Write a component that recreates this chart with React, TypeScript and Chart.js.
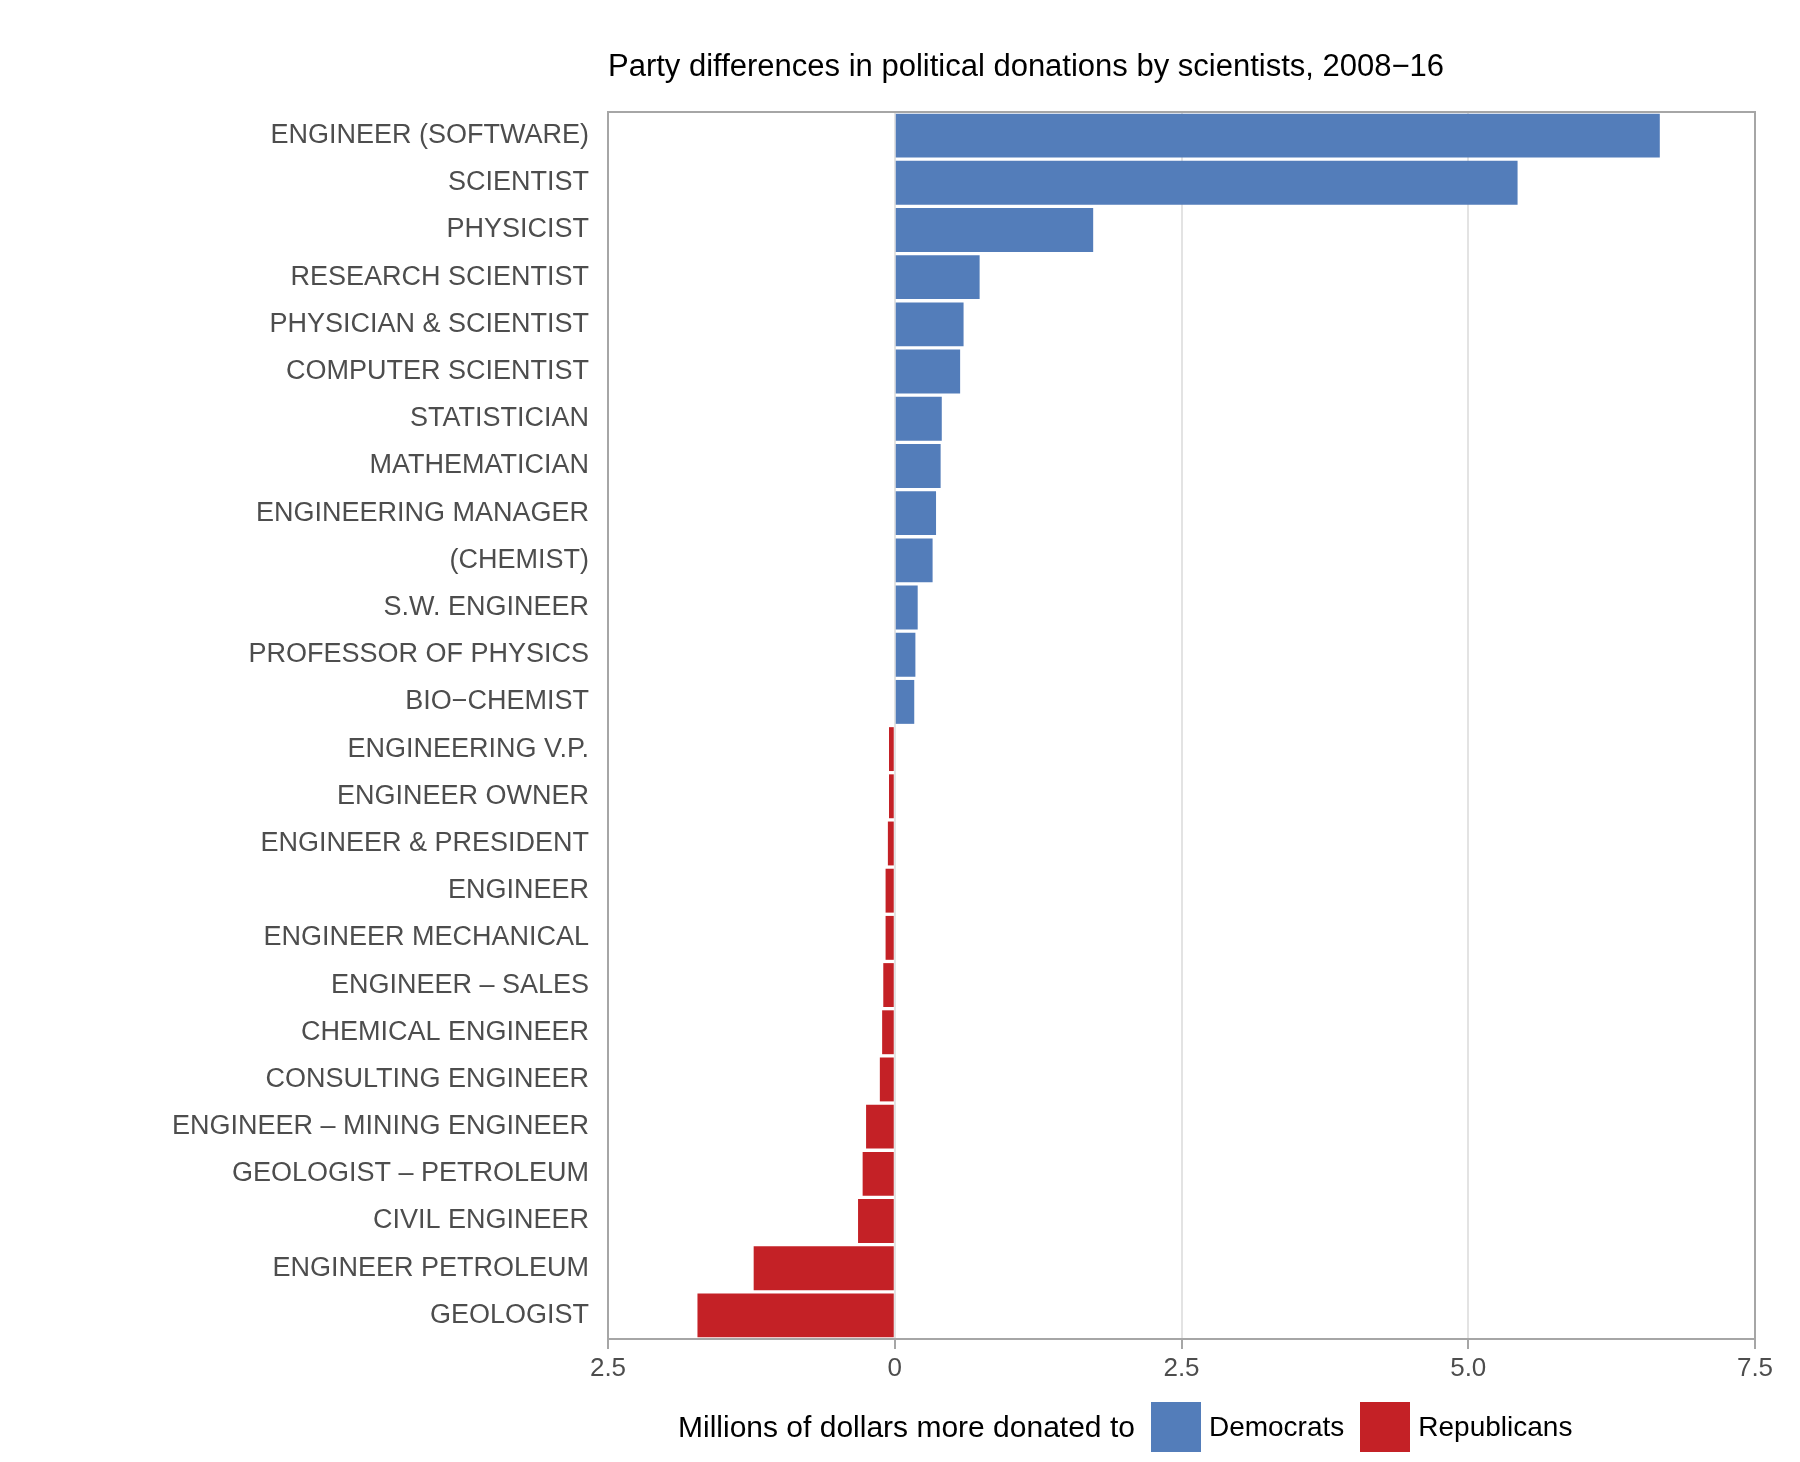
import React, { useEffect, useRef } from "react";
import { Chart, registerables } from "chart.js";
Chart.register(...registerables);

const categories = ["ENGINEER (SOFTWARE)","SCIENTIST","PHYSICIST","RESEARCH SCIENTIST","PHYSICIAN & SCIENTIST","COMPUTER SCIENTIST","STATISTICIAN","MATHEMATICIAN","ENGINEERING MANAGER","(CHEMIST)","S.W. ENGINEER","PROFESSOR OF PHYSICS","BIO\u2212CHEMIST","ENGINEERING V.P.","ENGINEER OWNER","ENGINEER & PRESIDENT","ENGINEER","ENGINEER MECHANICAL","ENGINEER \u2013 SALES","CHEMICAL ENGINEER","CONSULTING ENGINEER","ENGINEER \u2013 MINING ENGINEER","GEOLOGIST \u2013 PETROLEUM","CIVIL ENGINEER","ENGINEER PETROLEUM","GEOLOGIST"];
const values = [6.67,5.43,1.73,0.74,0.6,0.57,0.41,0.4,0.36,0.33,0.2,0.18,0.17,-0.05,-0.05,-0.06,-0.08,-0.08,-0.1,-0.11,-0.13,-0.25,-0.28,-0.32,-1.23,-1.72];
const xTicks = [-2.5, 0, 2.5, 5, 7.5];
const BLUE = "#537dba", RED = "#c42126";
const FONT = "'Liberation Sans', Arial, sans-serif";

export default function App() {
  const ref = useRef<HTMLCanvasElement>(null);
  useEffect(() => {
    const frame = {
      id: "frame",
      afterDatasetsDraw(c: any) {
        const { ctx, chartArea: a } = c;
        ctx.save(); ctx.strokeStyle = "#a6a6a6"; ctx.lineWidth = 2;
        ctx.strokeRect(a.left, a.top, a.right - a.left, a.bottom - a.top);
        ctx.restore();
      },
    };
    const chart = new Chart(ref.current!, {
      type: "bar",
      data: { labels: categories, datasets: [{ data: values, backgroundColor: values.map(v => v >= 0 ? BLUE : RED), borderWidth: 0, barPercentage: 0.93, categoryPercentage: 1 }] },
      options: {
        indexAxis: "y", animation: false, responsive: false,
        layout: { padding: { top: 112, right: 45, bottom: 63, left: 0 } },
        plugins: { legend: { display: false }, tooltip: { enabled: false } },
        scales: {
          x: {
            min: -2.5, max: 7.5,
            afterBuildTicks: (s: any) => { s.ticks = xTicks.map(v => ({ value: v })); },
            afterFit: (s: any) => { s.height = 60; },
            ticks: { font: { family: FONT, size: 26 }, color: "#4d4d4d", padding: 4, maxRotation: 0,
              callback: (v: any) => { const a = Math.abs(Number(v)); return a === 0 ? "0" : a.toFixed(1); } },
            grid: { color: "#e3e3e3", lineWidth: 2, tickLength: 10, tickColor: "#a6a6a6" },
            border: { display: false },
          },
          y: {
            afterFit: (s: any) => { s.width = 608; },
            ticks: { font: { family: FONT, size: 27 }, color: "#4d4d4d", padding: 19, autoSkip: false },
            grid: { display: false, drawTicks: false },
            border: { display: false },
          },
        },
      },
      plugins: [frame],
    } as any);
    return () => chart.destroy();
  }, []);
  return (
    <div style={{ position: "absolute", left: 0, top: 0, width: 1800, height: 1462, background: "#fff", fontFamily: FONT }}>
      <canvas ref={ref} width={1800} height={1462} style={{ position: "absolute", left: 0, top: 0 }} />
      <div style={{ position: "absolute", left: 608, top: 48, fontSize: 31, color: "#000" }}>Party differences in political donations by scientists, 2008{"\u2212"}16</div>
      <div style={{ position: "absolute", left: 678, top: 1400, height: 54, display: "flex", alignItems: "center", fontSize: 30, color: "#000" }}>
        <span>Millions of dollars more donated to</span>
        <span style={{ display: "inline-block", width: 50, height: 50, background: BLUE, marginLeft: 16, marginRight: 8 }} />
        <span style={{ fontSize: 28 }}>Democrats</span>
        <span style={{ display: "inline-block", width: 50, height: 50, background: RED, marginLeft: 16, marginRight: 8 }} />
        <span style={{ fontSize: 28 }}>Republicans</span>
      </div>
    </div>
  );
}
